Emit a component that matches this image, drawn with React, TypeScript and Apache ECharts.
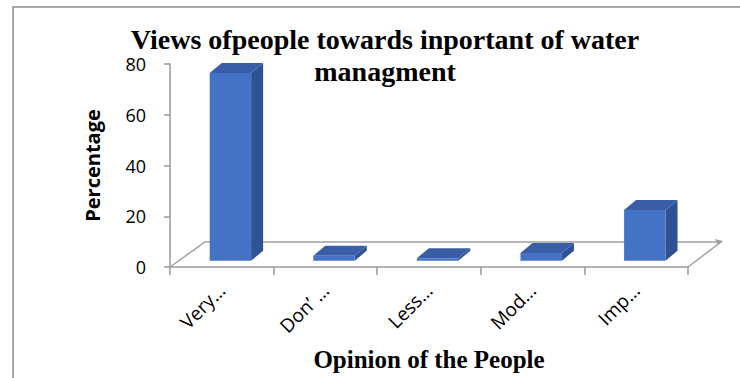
import React, { useEffect, useRef } from "react";
import * as echarts from "echarts";

const categories = ["Very…", "Don’ …", "Less…", "Mod…", "Imp…"];
const percentages = [74, 2, 1, 3, 20];
const yTicks = { min: 0, max: 80, interval: 20 };
const titleLines = ["Views ofpeople towards inportant of water", "managment"];
const xAxisTitle = "Opinion of the People";
const yAxisTitle = "Percentage";

const FLOOR_DX = 35;
const FLOOR_DY = -25;
const BAR_OX = 8.6;
const BAR_OY = -6.3;
const BAR_DX = 12;
const BAR_DY = -10;

export default function App() {
  const ref = useRef<HTMLDivElement>(null);
  useEffect(() => {
    if (!ref.current) return;
    const chart = echarts.init(ref.current, null, { renderer: "svg" });
    const option: any = {
      animation: false,
      backgroundColor: "#ffffff",
      title: {
        text: titleLines.join("\n"),
        left: 385,
        top: 23,
        padding: 0,
        textAlign: "center",
        textStyle: {
          fontFamily: "Liberation Serif",
          fontWeight: "bold",
          fontSize: 28,
          lineHeight: 32,
          color: "#000",
        },
      },
      graphic: [
        {
          type: "rect",
          shape: { x: 13, y: 7, width: 900, height: 600 },
          style: { fill: "none", stroke: "#8c8c8c", lineWidth: 1.5 },
          silent: true,
          z: -10,
        },
      ],
      grid: { left: 170, right: 52, top: 64, bottom: 111, containLabel: false },
      xAxis: {
        type: "category",
        data: categories,
        name: xAxisTitle,
        nameLocation: "middle",
        nameGap: 80,
        nameTextStyle: {
          fontFamily: "Liberation Serif",
          fontWeight: "bold",
          fontSize: 25,
          color: "#000",
        },
        axisLine: { show: true, lineStyle: { color: "#9a9a9a", width: 1.5 } },
        axisTick: { show: true, length: 8, lineStyle: { color: "#9a9a9a", width: 1.5 } },
        axisLabel: {
          rotate: 45,
          margin: 20,
          padding: [50, 0, 0, 0],
          fontFamily: "Open Sans",
          fontSize: 19,
          color: "#000",
          interval: 0,
        },
      },
      yAxis: {
        type: "value",
        min: yTicks.min,
        max: yTicks.max,
        interval: yTicks.interval,
        name: yAxisTitle,
        nameLocation: "middle",
        nameRotate: 90,
        nameGap: 68,
        nameTextStyle: {
          fontFamily: "Open Sans",
          fontWeight: "bold",
          fontSize: 20,
          color: "#000",
        },
        splitLine: { show: false },
        axisLine: { show: true, lineStyle: { color: "#9a9a9a", width: 1.5 } },
        axisTick: { show: true, length: 6, lineStyle: { color: "#9a9a9a", width: 1.5 } },
        axisLabel: {
          margin: 24,
          fontFamily: "Open Sans",
          fontSize: 18,
          color: "#000",
        },
      },
      series: [
        {
          type: "custom",
          name: "floor",
          z: 1,
          silent: true,
          data: [[0, 0]],
          renderItem: (params: any, api: any) => {
            const cs = params.coordSys;
            const x0 = cs.x;
            const x1 = cs.x + cs.width;
            const yF = cs.y + cs.height;
            const yB = yF + FLOOR_DY;
            const tipX = x1 + FLOOR_DX - 2;
            const stroke = { stroke: "#a0a0a0", lineWidth: 1.5, fill: "none" };
            return {
              type: "group",
              children: [
                {
                  type: "polyline",
                  shape: { points: [[x0, yF], [x0 + FLOOR_DX, yB], [tipX, yB]] },
                  style: stroke,
                },
                {
                  type: "polyline",
                  shape: { points: [[x1, yF], [tipX, yB]] },
                  style: stroke,
                },
                {
                  type: "polygon",
                  shape: { points: [[tipX + 2, yB - 1], [tipX - 6, yB - 3], [tipX - 3, yB + 3]] },
                  style: { fill: "#a0a0a0" },
                },
              ],
            };
          },
        },
        {
          type: "custom",
          name: "Percentage",
          z: 5,
          data: categories.map((c, i) => [i, percentages[i]]),
          renderItem: (params: any, api: any) => {
            const i = api.value(0);
            const v = api.value(1);
            const base = api.coord([i, 0]);
            const top = api.coord([i, v]);
            const bw = api.size([1, 0])[0] * 0.4;
            const x0 = base[0] + BAR_OX - bw / 2;
            const x1 = x0 + bw;
            const yb = base[1] + BAR_OY;
            const yt = top[1] + BAR_OY;
            return {
              type: "group",
              children: [
                {
                  type: "polygon",
                  shape: {
                    points: [
                      [x1, yt],
                      [x1 + BAR_DX, yt + BAR_DY],
                      [x1 + BAR_DX, yb + BAR_DY],
                      [x1, yb],
                    ],
                  },
                  style: { fill: "#2f5292" },
                },
                {
                  type: "polygon",
                  shape: {
                    points: [
                      [x0, yt],
                      [x1, yt],
                      [x1 + BAR_DX, yt + BAR_DY],
                      [x0 + BAR_DX, yt + BAR_DY],
                    ],
                  },
                  style: { fill: "#3a5ea6" },
                },
                {
                  type: "rect",
                  shape: { x: x0, y: yt, width: bw, height: yb - yt },
                  style: { fill: "#4472c4" },
                },
              ],
            };
          },
        },
      ],
    };
    chart.setOption(option);
    return () => chart.dispose();
  }, []);
  return (
    <div
      ref={ref}
      style={{ position: "fixed", left: 0, top: 0, width: 740, height: 378 }}
    />
  );
}
